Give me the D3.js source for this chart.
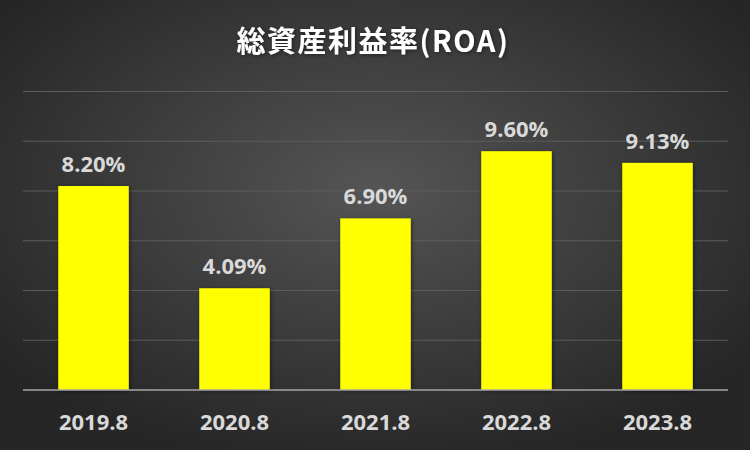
<!DOCTYPE html>
<html><head><meta charset="utf-8">
<script src="https://cdn.jsdelivr.net/npm/d3@7"></script>
<style>html,body{margin:0;padding:0;background:#2b2b2b;}svg{display:block;}</style>
</head><body>
<svg id="chart" width="750" height="450"></svg>
<script>
const categories = ["2019.8", "2020.8", "2021.8", "2022.8", "2023.8"];
const values = [8.20, 4.09, 6.90, 9.60, 9.13];
const labels = ["8.20%", "4.09%", "6.90%", "9.60%", "9.13%"];
const yTicks = [0, 2, 4, 6, 8, 10, 12];
const title = "総資産利益率(ROA)";

const W = 750, H = 450;
const m = {left: 23, right: 22, top: 91.5, bottom: 60};
const svg = d3.select("#chart");
const defs = svg.append("defs");
const rg = defs.append("radialGradient").attr("id", "bg")
  .attr("cx", "50%").attr("cy", "42%").attr("r", "62%");
rg.append("stop").attr("offset", "0%").attr("stop-color", "#555555");
rg.append("stop").attr("offset", "100%").attr("stop-color", "#262626");
const f = defs.append("filter").attr("id", "sh").attr("x", "-20%").attr("y", "-20%").attr("width", "140%").attr("height", "140%");
f.append("feDropShadow").attr("dx", 1).attr("dy", 1).attr("stdDeviation", 2).attr("flood-color", "#000").attr("flood-opacity", 0.5);

svg.append("rect").attr("width", W).attr("height", H).attr("fill", "url(#bg)");

const x = d3.scaleBand().domain(categories).range([m.left, W - m.right]).paddingInner(0.5).paddingOuter(0.25);
const y = d3.scaleLinear().domain([0, 12]).range([H - m.bottom, m.top]);

svg.append("g").selectAll("line").data(yTicks.slice(1)).join("line")
  .attr("x1", m.left).attr("x2", W - m.right)
  .attr("y1", d => y(d)).attr("y2", d => y(d))
  .attr("stroke", "#5c5c5c").attr("stroke-width", 1);

svg.append("g").selectAll("rect").data(values).join("rect")
  .attr("x", (d, i) => x(categories[i]))
  .attr("width", x.bandwidth())
  .attr("y", d => y(d))
  .attr("height", d => y(0) - y(d))
  .attr("fill", "#ffff00")
  .attr("filter", "url(#sh)");

svg.append("line").attr("x1", m.left).attr("x2", W - m.right)
  .attr("y1", y(0)).attr("y2", y(0)).attr("stroke", "#a6a6a6").attr("stroke-width", 1.5);

svg.append("g").selectAll("text").data(values).join("text")
  .attr("x", (d, i) => x(categories[i]) + x.bandwidth() / 2)
  .attr("y", d => y(d) - 14)
  .attr("text-anchor", "middle")
  .attr("font-family", "'Open Sans', sans-serif").attr("font-weight", "bold").attr("font-size", 22)
  .attr("fill", "#d9d9d9")
  .text((d, i) => labels[i]);

const xAxis = svg.append("g").attr("transform", `translate(0,${y(0)})`)
  .call(d3.axisBottom(x).tickSize(0).tickPadding(0));
xAxis.select(".domain").remove();
xAxis.selectAll("text").attr("dy", null).attr("y", 40)
  .attr("font-family", "'Open Sans', sans-serif").attr("font-weight", "bold").attr("font-size", 22)
  .attr("fill", "#d9d9d9");

svg.append("text").attr("x", 373).attr("y", 52).attr("text-anchor", "middle")
  .attr("font-family", "'Noto Sans CJK JP', sans-serif").attr("font-weight", "bold").attr("font-size", 29)
  .attr("letter-spacing", 1.5)
  .attr("fill", "#ffffff").attr("filter", "url(#sh)")
  .text(title);
</script>
</body></html>
